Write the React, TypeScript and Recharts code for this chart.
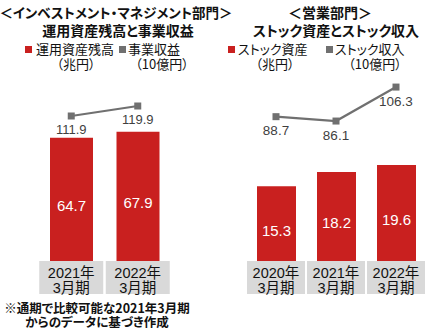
import { ComposedChart, Bar, Line, XAxis, YAxis, LabelList } from "recharts";

// left panel: investment management
const invCategories = ["2021年3月期", "2022年3月期"];
const invAssets = [64.7, 67.9]; // 兆円
const invRevenue = [111.9, 119.9]; // 10億円

// right panel: sales
const salesCategories = ["2020年3月期", "2021年3月期", "2022年3月期"];
const salesAssets = [15.3, 18.2, 19.6]; // 兆円
const salesRevenue = [88.7, 86.1, 106.3]; // 10億円

const RED = "#c9201f";
const GRAY = "#707070";
const NUM_FONT = '"Liberation Sans", "Noto Sans CJK JP", sans-serif';
const JP_FONT = '"Noto Sans CJK JP", sans-serif';

const invData = invCategories.map((c, i) => ({ cat: c, assets: invAssets[i], revenue: invRevenue[i] }));
const salesData = salesCategories.map((c, i) => ({ cat: c, assets: salesAssets[i], revenue: salesRevenue[i] }));

function CatTick(props: any) {
  const { x, y, payload, boxW } = props;
  const v: string = payload.value;
  const idx = v.indexOf("年");
  const l1 = v.slice(0, idx + 1);
  const l2 = v.slice(idx + 1);
  return (
    <g>
      <rect x={x - boxW / 2} y={y} width={boxW} height={33} fill="#d9d9d9" />
      <text x={x} y={y + 16.5} textAnchor="middle" fontSize={14.5} fill="#111" fontFamily={NUM_FONT}>
        {l1}
      </text>
      <text x={x} y={y + 31.5} textAnchor="middle" fontSize={14.5} fill="#111" fontFamily={NUM_FONT}>
        {l2}
      </text>
    </g>
  );
}

function SquareDot(props: any) {
  const { cx, cy } = props;
  if (cx == null || cy == null) return null;
  return <rect x={cx - 3.5} y={cy - 3.5} width={7} height={7} fill={GRAY} />;
}

function BarValue(props: any) {
  const vb = props.viewBox || props;
  const { x, y, width, height } = vb;
  return (
    <text
      x={x + width / 2}
      y={y + height / 2 + 12}
      textAnchor="middle"
      fontSize={15}
      fill="#fff"
      fontFamily={NUM_FONT}
    >
      {props.value}
    </text>
  );
}

function Panel({ data, left, margin, boxW, barSize, barDomain, lineDomain, labelFont }: any) {
  return (
    <div style={{ position: "absolute", left, top: 0 }}>
      <ComposedChart width={220} height={330} data={data} margin={margin}>
        <XAxis
          dataKey="cat"
          axisLine={false}
          tickLine={false}
          tickSize={0}
          tickMargin={0}
          height={33}
          interval={0}
          tick={<CatTick boxW={boxW} />}
        />
        <YAxis yAxisId="bar" hide type="number" domain={barDomain} allowDataOverflow />
        <YAxis yAxisId="line" hide orientation="right" type="number" domain={lineDomain} allowDataOverflow />
        <Bar yAxisId="bar" dataKey="assets" fill={RED} barSize={barSize} isAnimationActive={false}>
          <LabelList dataKey="assets" content={<BarValue />} />
        </Bar>
        <Line
          yAxisId="line"
          dataKey="revenue"
          stroke={GRAY}
          strokeWidth={2.2}
          dot={<SquareDot />}
          activeDot={false}
          isAnimationActive={false}
        >
          <LabelList
            dataKey="revenue"
            position="bottom"
            offset={9}
            fill="#3f3f3f"
            fontSize={labelFont}
            fontFamily={NUM_FONT}
          />
        </Line>
      </ComposedChart>
    </div>
  );
}

function Txt({ cx, left, cy, size, bold, children }: any) {
  const lh = size + 1;
  const style: any = {
    position: "absolute",
    top: cy - lh / 2,
    fontSize: size,
    lineHeight: `${lh}px`,
    fontWeight: bold ? 700 : 400,
    whiteSpace: "nowrap",
    fontFeatureSettings: '"palt"',
    color: "#111",
  };
  if (cx != null) {
    style.left = cx;
    style.transform = "translateX(-50%)";
  } else {
    style.left = left;
  }
  return <div style={style}>{children}</div>;
}

function Swatch({ x, color }: any) {
  return <div style={{ position: "absolute", left: x, top: 46, width: 7, height: 7, background: color }} />;
}

export default function App() {
  return (
    <div
      style={{
        position: "absolute",
        left: 0,
        top: 0,
        width: 440,
        height: 330,
        background: "#fff",
        overflow: "hidden",
        fontFamily: JP_FONT,
      }}
    >
      <Panel
        data={invData}
        left={0}
        margin={{ top: 80, right: 49, bottom: 36, left: 38 }}
        boxW={64}
        barSize={43}
        barDomain={[0, 95]}
        lineDomain={[-4.1, 140.7]}
        labelFont={13}
      />
      <Panel
        data={salesData}
        left={220}
        margin={{ top: 80, right: 14, bottom: 36, left: 26 }}
        boxW={58}
        barSize={39}
        barDomain={[0, 37]}
        lineDomain={[2.9, 110.5]}
        labelFont={13.5}
      />

      {/* titles */}
      <Txt cx={116} cy={12} size={13.5} bold>
        ＜インベストメント・マネジメント部門＞
      </Txt>
      <Txt cx={118} cy={30} size={14} bold>
        運用資産残高と事業収益
      </Txt>
      <Txt cx={330} cy={12} size={14} bold>
        ＜営業部門＞
      </Txt>
      <Txt cx={336} cy={30} size={14} bold>
        ストック資産とストック収入
      </Txt>

      {/* legends */}
      <Swatch x={25} color={RED} />
      <Txt left={36} cy={49} size={13}>運用資産残高</Txt>
      <Swatch x={119} color={GRAY} />
      <Txt left={128} cy={49} size={13}>事業収益</Txt>
      <Txt cx={76} cy={64} size={13}>（兆円）</Txt>
      <Txt cx={162} cy={64} size={13}>（10億円）</Txt>

      <Swatch x={228} color={RED} />
      <Txt left={238} cy={49} size={13}>ストック資産</Txt>
      <Swatch x={326} color={GRAY} />
      <Txt left={335} cy={49} size={13}>ストック収入</Txt>
      <Txt cx={275} cy={64} size={13}>（兆円）</Txt>
      <Txt cx={375} cy={64} size={13}>（10億円）</Txt>

      {/* footnote */}
      <Txt cx={97} cy={308} size={12.5} bold>
        ※通期で比較可能な2021年3月期
      </Txt>
      <Txt cx={97} cy={322} size={12.5} bold>
        からのデータに基づき作成
      </Txt>
    </div>
  );
}
